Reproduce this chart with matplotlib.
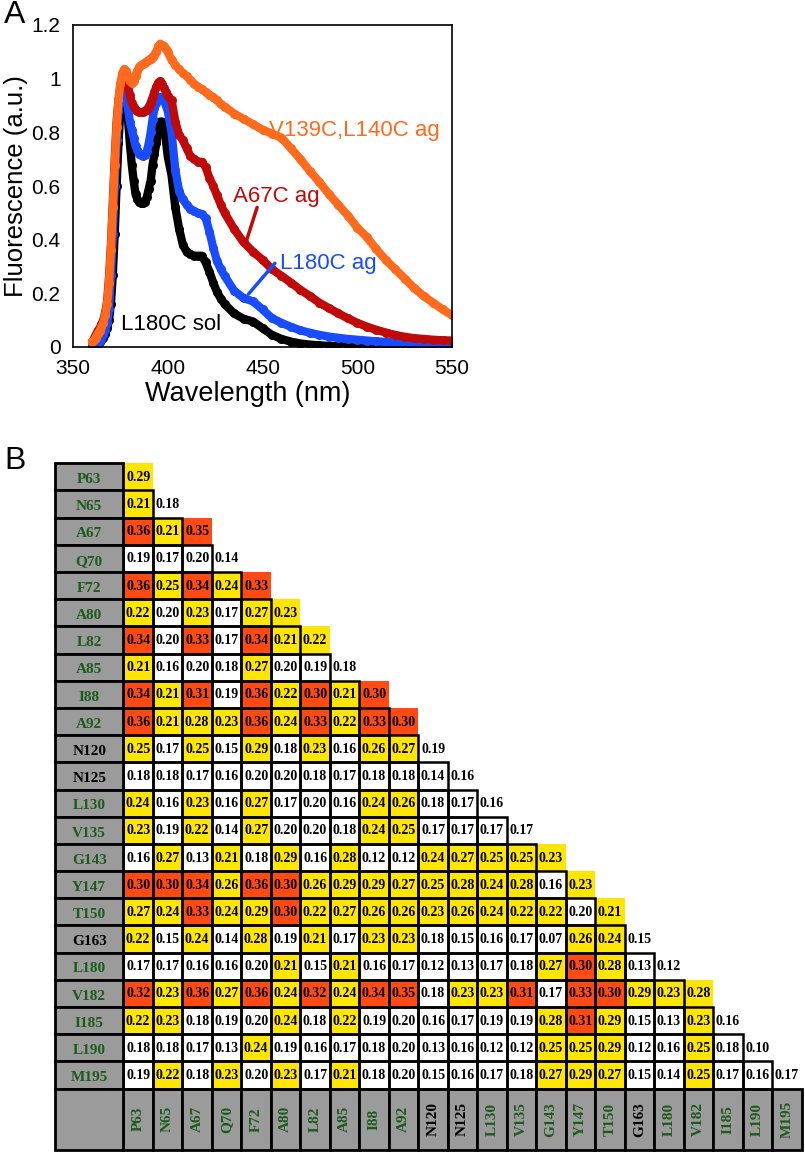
import matplotlib.pyplot as plt
from matplotlib.patches import Rectangle

# ---- panel A: fluorescence spectra ----
wavelength = [360, 361, 362, 363, 364, 365, 366, 367, 368, 369,
              370, 371, 372, 373, 374, 375, 376, 377, 378, 379,
              380, 381, 382, 383, 384, 385, 386, 387, 388, 389,
              390, 391, 392, 393, 394, 395, 396, 397, 398, 399, 400,
              402, 404, 406, 408, 410, 412, 414, 416, 418, 420, 422, 424, 426, 428, 430,
              435, 440, 445, 450, 455, 460, 465, 470, 475, 480, 485, 490, 495, 500,
              505, 510, 515, 520, 525, 530, 535, 540, 545, 550]

l180c_sol = [0.0, 0.003, 0.008, 0.012, 0.018, 0.025, 0.035, 0.05, 0.07, 0.10,
             0.16, 0.27, 0.42, 0.60, 0.76, 0.88, 0.94, 0.95, 0.92, 0.85,
             0.76, 0.68, 0.62, 0.57, 0.55, 0.54, 0.535, 0.535, 0.54, 0.56,
             0.59, 0.62, 0.68, 0.72, 0.76, 0.81, 0.84, 0.84, 0.82, 0.77, 0.71,
             0.64, 0.52, 0.44, 0.38, 0.355, 0.345, 0.34, 0.34, 0.34, 0.315, 0.28, 0.24, 0.205, 0.18, 0.16,
             0.125, 0.105, 0.095, 0.07, 0.045, 0.03, 0.02, 0.013, 0.009, 0.006, 0.004, 0.003, 0.002, 0.002,
             0.001, 0.001, 0.001, 0.001, 0.001, 0.001, 0.001, 0.001, 0.001, 0.001]

l180c_ag = [0.0, 0.004, 0.01, 0.015, 0.022, 0.03, 0.045, 0.065, 0.09, 0.14,
            0.27, 0.42, 0.60, 0.77, 0.88, 0.95, 0.97, 0.96, 0.93, 0.89,
            0.84, 0.81, 0.78, 0.75, 0.735, 0.72, 0.715, 0.71, 0.715, 0.73,
            0.76, 0.80, 0.85, 0.89, 0.91, 0.925, 0.93, 0.93, 0.92, 0.90, 0.88,
            0.80, 0.66, 0.58, 0.55, 0.53, 0.515, 0.505, 0.50, 0.495, 0.48, 0.43, 0.37, 0.32, 0.29, 0.265,
            0.21, 0.182, 0.17, 0.14, 0.107, 0.09, 0.075, 0.062, 0.053, 0.045, 0.039, 0.034, 0.03, 0.027,
            0.024, 0.021, 0.019, 0.017, 0.015, 0.013, 0.012, 0.01, 0.009, 0.008]

a67c_ag = [0.02, 0.03, 0.045, 0.06, 0.07, 0.085, 0.10, 0.13, 0.17, 0.26,
           0.38, 0.54, 0.70, 0.84, 0.92, 0.98, 1.0, 1.01, 1.0, 0.97,
           0.94, 0.91, 0.895, 0.885, 0.88, 0.875, 0.875, 0.875, 0.88, 0.885,
           0.895, 0.91, 0.93, 0.95, 0.97, 0.985, 0.99, 0.98, 0.965, 0.95, 0.935,
           0.92, 0.84, 0.79, 0.77, 0.74, 0.71, 0.70, 0.69, 0.69, 0.67, 0.63, 0.60, 0.565, 0.53, 0.50,
           0.44, 0.39, 0.355, 0.325, 0.29, 0.265, 0.24, 0.213, 0.19, 0.165, 0.145, 0.125, 0.107, 0.09,
           0.076, 0.064, 0.054, 0.045, 0.038, 0.033, 0.03, 0.027, 0.025, 0.024]

v139c_l140c_ag = [0.02, 0.025, 0.035, 0.05, 0.06, 0.075, 0.09, 0.12, 0.16, 0.24,
                  0.36, 0.52, 0.68, 0.82, 0.92, 0.98, 1.02, 1.035, 1.03, 1.01,
                  0.99, 0.985, 0.99, 1.01, 1.03, 1.045, 1.05, 1.055, 1.06, 1.065,
                  1.07, 1.075, 1.08, 1.09, 1.10, 1.12, 1.13, 1.125, 1.12, 1.11, 1.10,
                  1.07, 1.05, 1.035, 1.02, 1.01, 0.995, 0.98, 0.97, 0.96, 0.95, 0.94, 0.93, 0.92, 0.905, 0.895,
                  0.87, 0.85, 0.83, 0.81, 0.795, 0.78, 0.74, 0.70, 0.655, 0.615, 0.57, 0.53, 0.49, 0.445,
                  0.41, 0.365, 0.325, 0.29, 0.255, 0.22, 0.19, 0.165, 0.14, 0.118]

x_ticks = [350, 400, 450, 500, 550]
y_ticks = [0, 0.2, 0.4, 0.6, 0.8, 1.0, 1.2]
y_tick_labels = ["0", "0.2", "0.4", "0.6", "0.8", "1", "1.2"]

# ---- panel B: pairwise table ----
residues = ["P63", "N65", "A67", "Q70", "F72", "A80", "L82", "A85", "I88", "A92",
            "N120", "N125", "L130", "V135", "G143", "Y147", "T150", "G163", "L180",
            "V182", "I185", "L190", "M195"]
black_labels = ["N120", "N125", "G163"]

table = [
    [0.29],
    [0.21, 0.18],
    [0.36, 0.21, 0.35],
    [0.19, 0.17, 0.20, 0.14],
    [0.36, 0.25, 0.34, 0.24, 0.33],
    [0.22, 0.20, 0.23, 0.17, 0.27, 0.23],
    [0.34, 0.20, 0.33, 0.17, 0.34, 0.21, 0.22],
    [0.21, 0.16, 0.20, 0.18, 0.27, 0.20, 0.19, 0.18],
    [0.34, 0.21, 0.31, 0.19, 0.36, 0.22, 0.30, 0.21, 0.30],
    [0.36, 0.21, 0.28, 0.23, 0.36, 0.24, 0.33, 0.22, 0.33, 0.30],
    [0.25, 0.17, 0.25, 0.15, 0.29, 0.18, 0.23, 0.16, 0.26, 0.27, 0.19],
    [0.18, 0.18, 0.17, 0.16, 0.20, 0.20, 0.18, 0.17, 0.18, 0.18, 0.14, 0.16],
    [0.24, 0.16, 0.23, 0.16, 0.27, 0.17, 0.20, 0.16, 0.24, 0.26, 0.18, 0.17, 0.16],
    [0.23, 0.19, 0.22, 0.14, 0.27, 0.20, 0.20, 0.18, 0.24, 0.25, 0.17, 0.17, 0.17, 0.17],
    [0.16, 0.27, 0.13, 0.21, 0.18, 0.29, 0.16, 0.28, 0.12, 0.12, 0.24, 0.27, 0.25, 0.25, 0.23],
    [0.30, 0.30, 0.34, 0.26, 0.36, 0.30, 0.26, 0.29, 0.29, 0.27, 0.25, 0.28, 0.24, 0.28, 0.16, 0.23],
    [0.27, 0.24, 0.33, 0.24, 0.29, 0.30, 0.22, 0.27, 0.26, 0.26, 0.23, 0.26, 0.24, 0.22, 0.22, 0.20, 0.21],
    [0.22, 0.15, 0.24, 0.14, 0.28, 0.19, 0.21, 0.17, 0.23, 0.23, 0.18, 0.15, 0.16, 0.17, 0.07, 0.26, 0.24, 0.15],
    [0.17, 0.17, 0.16, 0.16, 0.20, 0.21, 0.15, 0.21, 0.16, 0.17, 0.12, 0.13, 0.17, 0.18, 0.27, 0.30, 0.28, 0.13, 0.12],
    [0.32, 0.23, 0.36, 0.27, 0.36, 0.24, 0.32, 0.24, 0.34, 0.35, 0.18, 0.23, 0.23, 0.31, 0.17, 0.33, 0.30, 0.29, 0.23, 0.28],
    [0.22, 0.23, 0.18, 0.19, 0.20, 0.24, 0.18, 0.22, 0.19, 0.20, 0.16, 0.17, 0.19, 0.19, 0.28, 0.31, 0.29, 0.15, 0.13, 0.23, 0.16],
    [0.18, 0.18, 0.17, 0.13, 0.24, 0.19, 0.16, 0.17, 0.18, 0.20, 0.13, 0.16, 0.12, 0.12, 0.25, 0.25, 0.29, 0.12, 0.16, 0.25, 0.18, 0.10],
    [0.19, 0.22, 0.18, 0.23, 0.20, 0.23, 0.17, 0.21, 0.18, 0.20, 0.15, 0.16, 0.17, 0.18, 0.27, 0.29, 0.27, 0.15, 0.14, 0.25, 0.17, 0.16, 0.17],
]

RED = "#ff4a12"
YELLOW = "#ffe600"
GRAY = "#9b9b9b"
GREEN = "#1d5a1d"
SANS = "Liberation Sans"
SERIF = "Liberation Serif"

fig = plt.figure(figsize=(8.05, 11.54), dpi=100)

# ---------------- panel A ----------------
axA = fig.add_axes([73 / 805, 1 - 347 / 1154, (452 - 73) / 805, (347 - 25) / 1154])
series = [
    (l180c_sol, "black"),
    (l180c_ag, "#1a4cff"),
    (a67c_ag, "#c00a0a"),
    (v139c_l140c_ag, "#ff6a1c"),
]
for ys, col in series:
    axA.plot(wavelength, ys, "-o", color=col, lw=6, ms=6.5, mew=0,
             solid_capstyle="round", solid_joinstyle="round")

axA.set_xlim(350, 550)
axA.set_ylim(0, 1.2)
axA.set_xticks(x_ticks)
axA.set_xticklabels([str(t) for t in x_ticks], fontsize=15, family=SANS)
axA.set_yticks(y_ticks)
axA.set_yticklabels(y_tick_labels, fontsize=15, family=SANS)
axA.tick_params(length=0, pad=9)
for s in axA.spines.values():
    s.set_linewidth(1.2)
axA.set_xlabel("Wavelength (nm)", fontsize=19.5, family=SANS)
axA.xaxis.set_label_coords(0.46, -0.105)
axA.set_ylabel("Fluorescence (a.u.)", fontsize=18.5, family=SANS)
axA.yaxis.set_label_coords(-0.12, 0.5)

axA.text(453.5, 0.805, "V139C,L140C ag", color="#ff6a1c", fontsize=16,
         family=SANS, va="center", ha="left", clip_on=False)
axA.text(434.5, 0.56, "A67C ag", color="#c00a0a", fontsize=16,
         family=SANS, va="center", ha="left")
axA.text(459, 0.31, "L180C ag", color="#1a4cff", fontsize=16,
         family=SANS, va="center", ha="left")
axA.text(375.5, 0.082, "L180C sol", color="black", fontsize=16,
         family=SANS, va="center", ha="left")
axA.annotate("", xy=(440.8, 0.38), xytext=(447.6, 0.53),
             arrowprops=dict(arrowstyle="-", color="#c00a0a", lw=2.5))
axA.annotate("", xy=(441.7, 0.19), xytext=(457.5, 0.32),
             arrowprops=dict(arrowstyle="-", color="#1a4cff", lw=2.5))

fig.text(4 / 805, 1 - 15 / 1154, "A", fontsize=23, family=SANS, va="center", ha="left")
fig.text(4 / 805, 1 - 461 / 1154, "B", fontsize=23, family=SANS, va="center", ha="left")

# ---------------- panel B ----------------
axB = fig.add_axes([55 / 805, 1 - 1150 / 1154, (801.7 - 55) / 805, (1150 - 463.3) / 1154])
n = len(residues)
lab_w = 2.32
lab_h = 2.26
axB.set_xlim(-lab_w, n)
axB.set_ylim(n + lab_h, 0)
axB.axis("off")


def cell_color(v):
    if v >= 0.30:
        return RED
    if v >= 0.21:
        return YELLOW
    return "white"


def label_color(name):
    return "black" if name in black_labels else GREEN


for i, row in enumerate(table):
    for j, v in enumerate(row):
        axB.add_patch(Rectangle((j, i), 1, 1, facecolor=cell_color(v),
                                edgecolor="none", zorder=1, clip_on=False))
        if j < i:
            axB.add_patch(Rectangle((j, i), 1, 1, facecolor="none",
                                    edgecolor="black", lw=1.8, zorder=3, clip_on=False))
        axB.text(j + 0.5, i + 0.52, f"{v:.2f}", ha="center", va="center",
                 fontsize=10, fontweight="bold", family=SERIF, zorder=4)

    name = residues[i]
    axB.add_patch(Rectangle((-lab_w, i), lab_w, 1, facecolor=GRAY,
                            edgecolor="black", lw=2, zorder=3, clip_on=False))
    axB.text(-lab_w / 2, i + 0.6, name, ha="center", va="center", fontsize=11,
             fontweight="bold", family=SERIF, color=label_color(name), zorder=4)

    axB.add_patch(Rectangle((i, n), 1, lab_h, facecolor=GRAY,
                            edgecolor="black", lw=2, zorder=3, clip_on=False))
    axB.text(i + 0.5, n + lab_h / 2, name, ha="center", va="center", fontsize=11,
             fontweight="bold", family=SERIF, color=label_color(name),
             rotation=90, zorder=4)

axB.add_patch(Rectangle((-lab_w, n), lab_w, lab_h, facecolor=GRAY,
                        edgecolor="black", lw=2, zorder=3, clip_on=False))

fig.savefig("out.png", dpi=100)
